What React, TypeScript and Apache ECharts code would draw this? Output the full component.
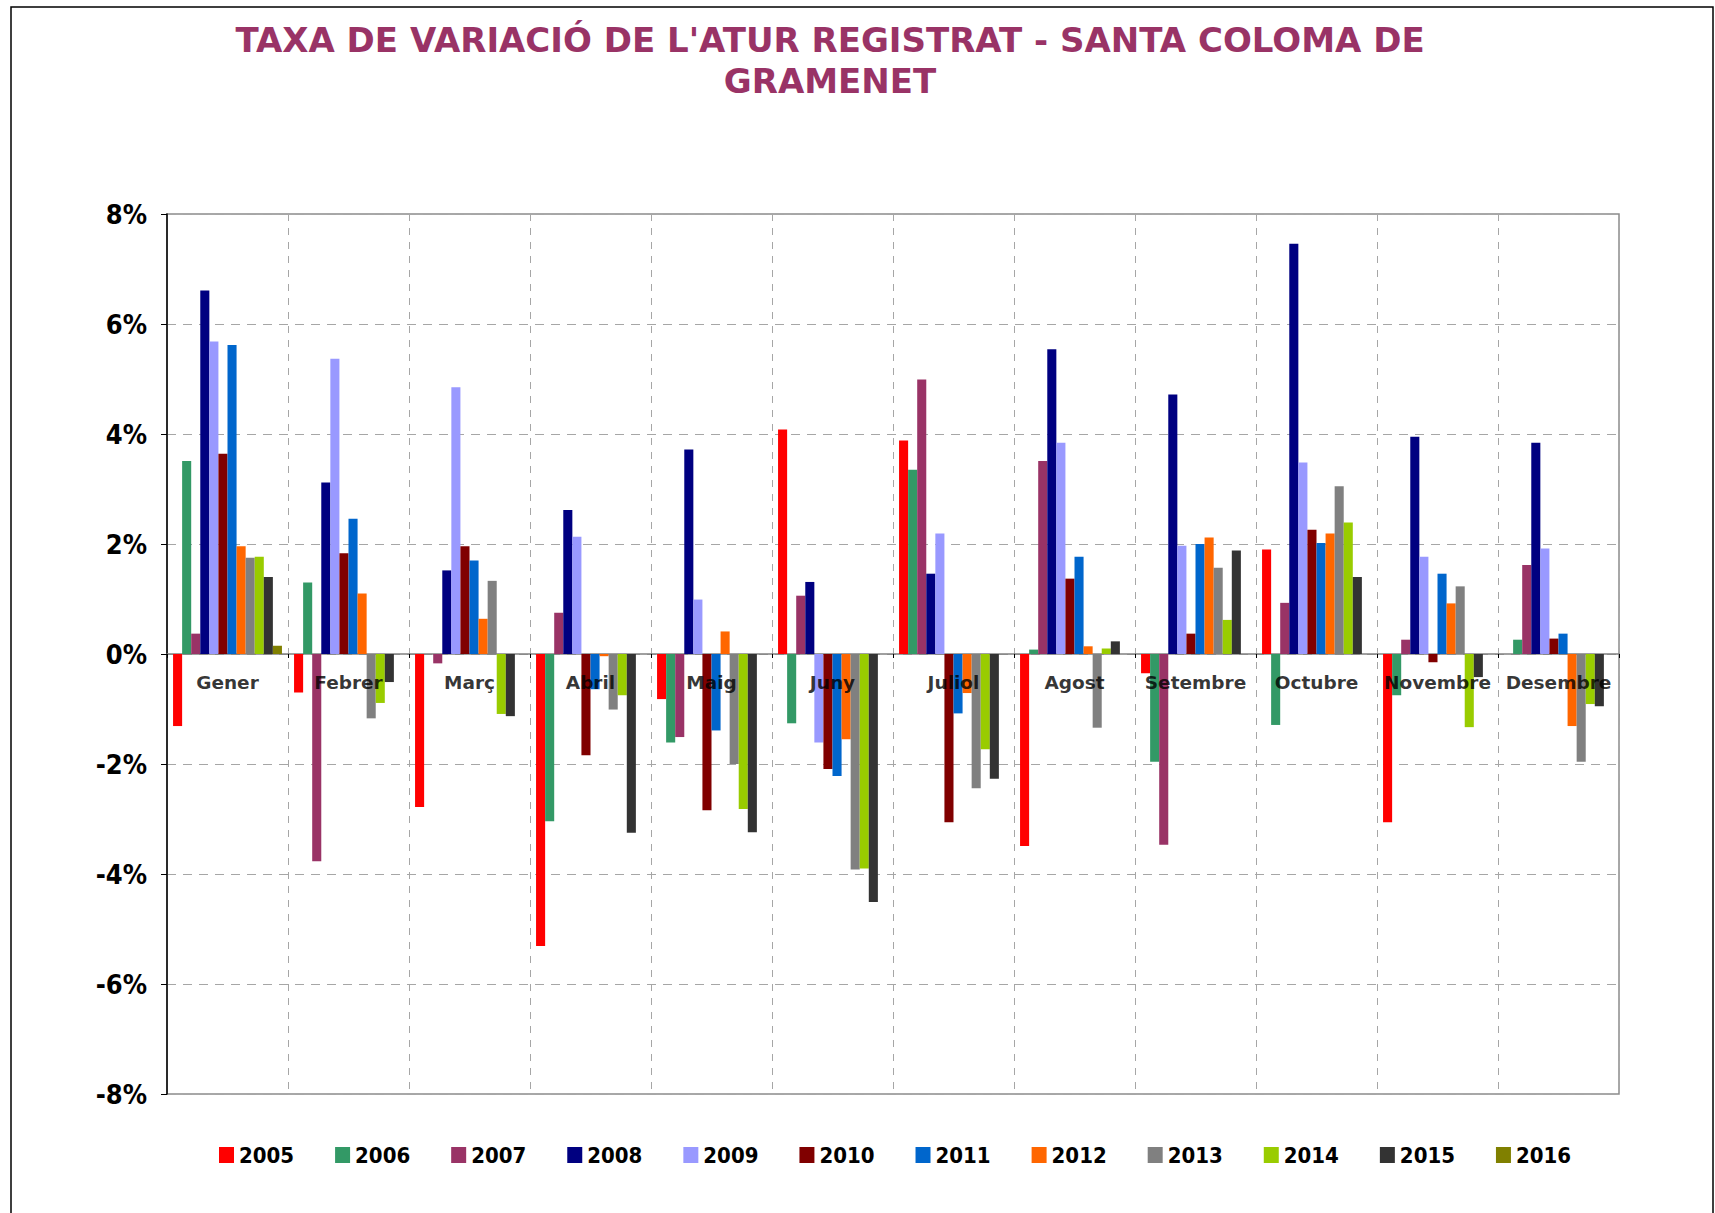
import React, { useEffect, useRef } from "react";
import * as echarts from "echarts";

const titleLines = ["TAXA DE VARIACIÓ DE L'ATUR REGISTRAT - SANTA COLOMA DE", "GRAMENET"];
const months = ["Gener", "Febrer", "Març", "Abril", "Maig", "Juny", "Juliol", "Agost", "Setembre", "Octubre", "Novembre", "Desembre"];
const years = ["2005", "2006", "2007", "2008", "2009", "2010", "2011", "2012", "2013", "2014", "2015", "2016"];
const colors = ["#FF0000", "#339966", "#993366", "#000080", "#9999FF", "#800000", "#0066CC", "#FF6600", "#808080", "#99CC00", "#333333", "#808000"];
const yMin = -8;
const yMax = 8;
const yStep = 2;

const v2005 = [-1.31, -0.70, -2.78, -5.31, -0.82, 4.08, 3.88, -3.49, -0.35, 1.90, -3.06, null];
const v2006 = [3.51, 1.30, null, -3.04, -1.61, -1.26, 3.35, 0.08, -1.96, -1.29, -0.75, 0.26];
const v2007 = [0.37, -3.77, -0.17, 0.75, -1.51, 1.06, 4.99, 3.51, -3.47, 0.93, 0.26, 1.62];
const v2008 = [6.61, 3.12, 1.52, 2.62, 3.72, 1.31, 1.46, 5.54, 4.72, 7.46, 3.95, 3.84];
const v2009 = [5.68, 5.37, 4.85, 2.13, 0.99, -1.61, 2.19, 3.84, 1.97, 3.48, 1.77, 1.92];
const v2010 = [3.64, 1.83, 1.96, -1.84, -2.84, -2.09, -3.06, 1.37, 0.37, 2.26, -0.15, 0.28];
const v2011 = [5.62, 2.46, 1.70, -0.64, -1.39, -2.22, -1.08, 1.77, 2.00, 2.02, 1.46, 0.37];
const v2012 = [1.96, 1.10, 0.64, -0.04, 0.41, -1.55, -0.71, 0.14, 2.12, 2.19, 0.92, -1.31];
const v2013 = [1.75, -1.17, 1.33, -1.01, -2.00, -3.92, -2.44, -1.34, 1.57, 3.05, 1.23, -1.96];
const v2014 = [1.77, -0.89, -1.09, -0.75, -2.82, -3.90, -1.73, 0.10, 0.62, 2.39, -1.33, -0.91];
const v2015 = [1.40, -0.51, -1.13, -3.25, -3.24, -4.51, -2.27, 0.23, 1.88, 1.40, -0.42, -0.95];
const v2016 = [0.15, null, null, null, null, null, null, null, null, null, null, null];

const seriesValues = [v2005, v2006, v2007, v2008, v2009, v2010, v2011, v2012, v2013, v2014, v2015, v2016];

const NARROW = "'Liberation Sans Narrow', 'Arial Narrow', 'DejaVu Sans Condensed', sans-serif";
const WIDE = "'DejaVu Sans', Verdana, sans-serif";

export default function App() {
  const ref = useRef<HTMLDivElement>(null);

  useEffect(() => {
    if (!ref.current) return;
    const chart = echarts.init(ref.current, undefined, { renderer: "svg" });
    const barSeries = years.map((y, i) => ({
      name: y,
      type: "bar",
      data: seriesValues[i],
      barGap: "0%",
      barCategoryGap: "10%",
      itemStyle: { color: colors[i] },
      z: 2,
    }));
    const labelSeries = {
      name: "months",
      type: "scatter",
      data: months.map((m) => ({ name: m, value: [m, 0] })),
      symbolSize: 0,
      silent: true,
      z: 20,
      label: {
        show: true,
        position: "bottom",
        distance: 19,
        formatter: (p: any) => p.name,
        fontFamily: WIDE,
        fontWeight: "bold",
        fontSize: 18.5,
        color: "#000000",
      },
    };
    const option: any = {
      animation: false,
      backgroundColor: "#ffffff",
      color: colors,
      title: {
        text: titleLines.join("\n"),
        left: 825,
        top: 14,
        textAlign: "center",
        textStyle: {
          fontFamily: WIDE,
          fontWeight: "bold",
          fontSize: 34,
          lineHeight: 41,
          color: "#993366",
        },
      },
      graphic: [
        {
          type: "rect",
          shape: { x: 11, y: 7, width: 1702, height: 1300 },
          style: { fill: "none", stroke: "#000000", lineWidth: 1.5 },
          silent: true,
        },
      ],
      legend: {
        data: years,
        left: 214,
        top: 1139,
        icon: "rect",
        itemWidth: 15,
        itemHeight: 16,
        itemGap: 41,
        textStyle: {
          fontFamily: NARROW,
          fontWeight: "bold",
          fontSize: 22,
          color: "#000000",
        },
      },
      grid: {
        left: 167,
        right: 96,
        top: 214,
        bottom: 119,
        show: true,
        borderColor: "#8c8c8c",
        borderWidth: 1.5,
        backgroundColor: "transparent",
      },
      xAxis: {
        type: "category",
        data: months,
        axisLine: { onZero: true, lineStyle: { color: "#808080", width: 1.5 } },
        axisTick: { show: true, interval: 0, length: 4, lineStyle: { color: "#000000" } },
        axisLabel: { show: false, interval: 0 },
        splitLine: {
          show: true,
          interval: (index: number) => index !== 0 && index !== months.length,
          lineStyle: { color: "#a6a6a6", type: [7, 7], width: 1 },
        },
      },
      yAxis: {
        type: "value",
        min: yMin,
        max: yMax,
        interval: yStep,
        axisLine: { show: true, lineStyle: { color: "#000000", width: 1.5 } },
        axisTick: { show: true, length: 6, lineStyle: { color: "#000000" } },
        axisLabel: {
          margin: 20,
          formatter: (v: number) => `${v}%`,
          fontFamily: NARROW,
          fontWeight: "bold",
          fontSize: 27,
          color: "#000000",
        },
        splitLine: {
          show: true,
          lineStyle: { color: "#a6a6a6", type: [9, 7], width: 1 },
        },
      },
      series: [...barSeries, labelSeries],
    };
    chart.setOption(option);
    return () => chart.dispose();
  }, []);

  return (
    <div
      ref={ref}
      style={{ position: "fixed", left: 0, top: 0, width: 1715, height: 1213, background: "#fff" }}
    />
  );
}
